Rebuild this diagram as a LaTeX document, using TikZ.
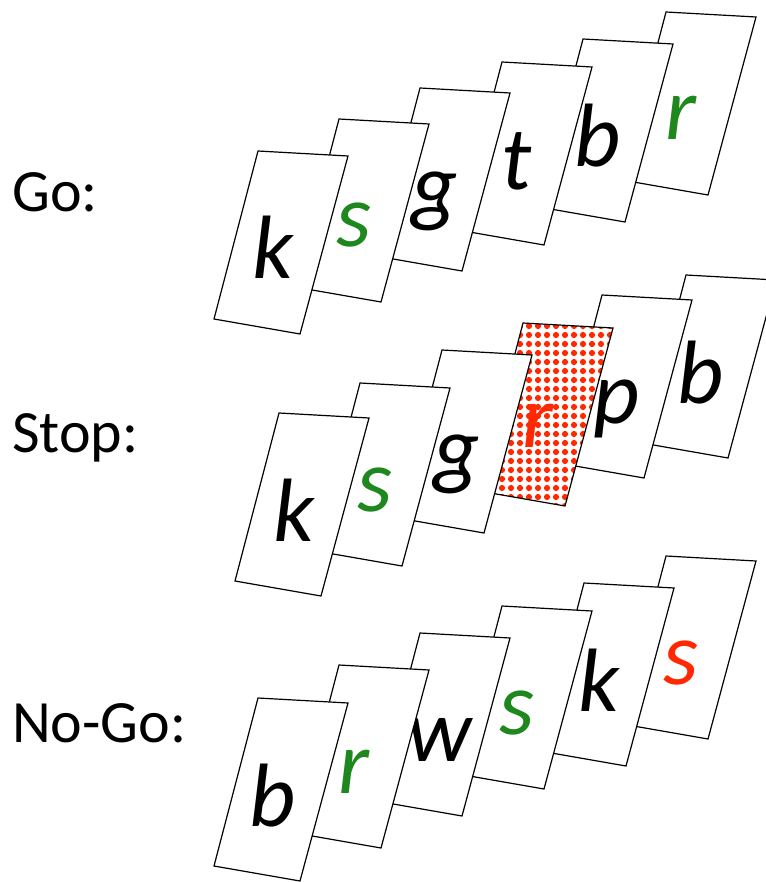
\documentclass[tikz,border=0pt]{standalone}
\usepackage{fontspec}
\setmainfont{Carlito}
\usepackage{xcolor}
\usepackage{tikz}
\usetikzlibrary{positioning}

\definecolor{letgreen}{RGB}{30,135,30}
\definecolor{letred}{RGB}{255,40,0}

\begin{document}
\begin{tikzpicture}[x=1pt, y=-1pt]
    \tikzstyle{card} = [draw, fill=white, line width=1.2pt, line join=miter]
    \tikzstyle{cardletter} = [font=\itshape\fontsize{90}{90}\selectfont, anchor=base, inner sep=0pt]
    \tikzstyle{rowlabel} = [font=\fontsize{60}{60}\selectfont, anchor=base west, inner sep=0pt]
    \useasboundingbox (0,0) rectangle (765,882);

    % row labels
    \node [rowlabel] (golabel) at (12,212) {Go:};
    \node [rowlabel] (stoplabel) at (12,452) {Stop:};
    \node [rowlabel] (nogolabel) at (12,742) {No-Go:};

    % Go row, back card first
    \foreach \x/\y/\ch/\col [count=\i] in {666/12/r/letgreen, 583/39/b/black, 502/62/t/black,
        420/88/g/black, 339/119/s/letgreen, 258/151/k/black}
    {
        \draw [card, shift={(\x,\y)}] (0,0) -- (90,5) -- (42,183) -- (-44,168) -- cycle;
        \node [cardletter, text=\col] (go\i) at (\x+15,\y+128) {\ch};
    }

    % Stop row, the two back cards
    \foreach \x/\y/\ch [count=\i] in {686/275/b, 602/295/p}
    {
        \draw [card, shift={(\x,\y)}] (0,0) -- (90,5) -- (42,183) -- (-44,168) -- cycle;
        \node [cardletter] (stop\i) at (\x+15,\y+128) {\ch};
    }
    % Stop row, the checkered card
    \fill [white, shift={(523,323)}] (0,0) -- (90,5) -- (42,183) -- (-44,168) -- cycle;
    \begin{scope}[shift={(523,323)}]
        \clip (0,0) -- (90,5) -- (42,183) -- (-44,168) -- cycle;
        \foreach \u in {-48,-39,...,96}
            \foreach \v in {3,12,...,192}
                \fill [letred] (\u,\v) circle (3.1);
    \end{scope}
    \draw [line width=1.2pt, shift={(523,323)}] (0,0) -- (90,5) -- (42,183) -- (-44,168) -- cycle;
    \node [cardletter, text=letred] (stop3) at (538,447) {r};
    % Stop row, the front cards
    \foreach \x/\y/\ch/\col [count=\i from 4] in {442/350/g/black, 360/383/s/letgreen, 279/413/k/black}
    {
        \draw [card, shift={(\x,\y)}] (0,0) -- (90,5) -- (42,183) -- (-44,168) -- cycle;
        \node [cardletter, text=\col] (stop\i) at (\x+15,\y+128) {\ch};
    }

    % No-Go row, back card first
    \foreach \x/\y/\ch/\col/\dx [count=\i] in {666/556/s/letred/15, 584/583/k/black/15, 502/606/s/letgreen/15,
        420/633/w/black/20, 339/665/r/letgreen/15, 258/698/b/black/15}
    {
        \draw [card, shift={(\x,\y)}] (0,0) -- (90,5) -- (42,183) -- (-44,168) -- cycle;
        \node [cardletter, text=\col] (nogo\i) at (\x+\dx,\y+128) {\ch};
    }
\end{tikzpicture}
\end{document}
